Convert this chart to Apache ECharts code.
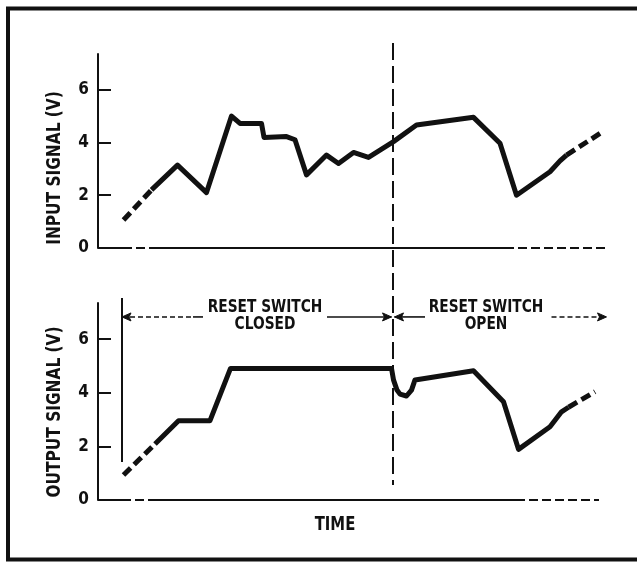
<!DOCTYPE html>
<html><head><meta charset="utf-8">
<script src="https://cdn.jsdelivr.net/npm/echarts@6/dist/echarts.min.js"></script>
<style>html,body{margin:0;padding:0;background:#fff}#c{width:637px;height:562px}</style>
</head><body><div id="c"></div>
<script>
const FONT = "'Liberation Sans Narrow','DejaVu Sans Condensed','Arial Narrow',sans-serif";
const yTicks = [0, 2, 4, 6];
const xMax = 102, yMax = 7.35;

// INPUT SIGNAL (V) vs time (arbitrary units)
const inputDashStart = [[5.1, 1.06], [10.7, 2.2]];
const inputSolid = [[10.7, 2.2], [15.9, 3.14], [21.7, 2.1], [26.7, 5.0], [28.4, 4.72], [32.7, 4.72], [33.2, 4.19],
  [37.7, 4.22], [39.4, 4.1], [41.7, 2.77], [45.7, 3.52], [48.1, 3.2], [51.1, 3.62], [54.1, 3.43],
  [59.1, 4.03], [63.7, 4.66], [75.1, 4.95], [80.4, 3.97], [83.7, 2.0], [90.4, 2.89], [92.4, 3.3], [93.7, 3.52]];
const inputDashEnd = [[93.7, 3.52], [100.4, 4.34]];

// OUTPUT SIGNAL (V) vs time
const outputDashStart = [[5.1, 0.93], [11.4, 2.09]];
const outputSolid = [[11.4, 2.09], [16.1, 2.96], [22.4, 2.96], [26.5, 4.91], [58.7, 4.91], [59.1, 4.48], [59.8, 4.1],
  [60.4, 3.95], [61.7, 3.88], [62.7, 4.1], [63.4, 4.48], [75.1, 4.82], [81.1, 3.67], [84.1, 1.89],
  [90.4, 2.73], [92.7, 3.29], [94.1, 3.46]];
const outputDashEnd = [[94.1, 3.46], [99.4, 4.04]];

// zero lines (solid / dashed pieces)
const topBaseSolid = [[[0, 0], [5.0, 0]], [[11.4, 0], [81.4, 0]]];
const topBaseDash = [[[5.0, 0], [11.4, 0]], [[81.4, 0], [101.8, 0]]];
const botBaseSolid = [[[0, 0], [4.8, 0]], [[11.2, 0], [83.6, 0]]];
const botBaseDash = [[[4.8, 0], [11.2, 0]], [[83.6, 0], [100.2, 0]]];

// annotation values
const switchCloseTime = 4.8;
const resetTime = 59.0;
const arrowLevel = 6.83;
const closedLabel = 'RESET SWITCH\nCLOSED';
const openLabel = 'RESET SWITCH\nOPEN';
const closedLabelPos = [33.4, 6.86];
const openLabelPos = [77.6, 6.86];

const chart = echarts.init(document.getElementById('c'), null, {renderer: 'canvas'});

function yAx(gi) {
  return {
    type: 'value', gridIndex: gi, min: 0, max: yMax, interval: 2,
    axisLine: {show: true, lineStyle: {color: '#111', width: 2}},
    axisTick: {show: true, inside: true, length: 13, lineStyle: {color: '#111', width: 2}},
    axisLabel: {color: '#111', fontFamily: FONT, fontWeight: 'bold', fontSize: 17, margin: 9, showMaxLabel: false,
      formatter: v => (yTicks.indexOf(v) >= 0 ? String(v) : '')},
    splitLine: {show: false}
  };
}
function xAx(gi) {
  return {type: 'value', gridIndex: gi, min: 0, max: xMax, show: false};
}
function line(gi, data, dashed, width) {
  return {
    type: 'line', xAxisIndex: gi, yAxisIndex: gi, data: data, symbol: 'none', silent: true, animation: false,
    lineStyle: {color: '#111', width: width, type: dashed ? dashed : 'solid', cap: 'butt', join: 'round'}
  };
}
const series = [];
topBaseSolid.forEach(s => series.push(line(0, s, null, 2)));
topBaseDash.forEach(s => series.push(line(0, s, [9, 4], 2)));
botBaseSolid.forEach(s => series.push(line(1, s, null, 2)));
botBaseDash.forEach(s => series.push(line(1, s, [9, 4], 2)));
series.push(line(0, inputDashStart, [10, 5], 5));
series.push(line(0, inputSolid, null, 5));
series.push(line(0, inputDashEnd, [10, 5], 5));
series.push(line(1, outputDashStart, [10, 5], 5));
series.push(line(1, outputSolid, null, 5));
series.push(line(1, outputDashEnd, [10, 5], 5));

chart.setOption({
  backgroundColor: '#fff',
  animation: false,
  grid: [
    {left: 98, top: 54, width: 510, height: 194},
    {left: 98, top: 303, width: 510, height: 197}
  ],
  xAxis: [xAx(0), xAx(1)],
  yAxis: [yAx(0), yAx(1)],
  series: series
});

const P = (gi, v) => chart.convertToPixel({gridIndex: gi}, v);
const g = [];
// frame
g.push({type: 'polyline', shape: {points: [[700, 8.5], [8, 8.5], [8, 559.5], [700, 559.5]]},
  style: {stroke: '#111', lineWidth: 4, fill: null}, silent: true});
// titles
g.push({type: 'text', x: 55, y: 168, rotation: Math.PI / 2, scaleX: 0.9,
  style: {text: 'INPUT SIGNAL (V)', align: 'center', verticalAlign: 'middle', font: 'bold 19px ' + FONT, fill: '#111'}});
g.push({type: 'text', x: 55, y: 412, rotation: Math.PI / 2, scaleX: 0.9,
  style: {text: 'OUTPUT SIGNAL (V)', align: 'center', verticalAlign: 'middle', font: 'bold 19px ' + FONT, fill: '#111'}});
g.push({type: 'text', x: 335, y: 525, scaleX: 0.87,
  style: {text: 'TIME', align: 'center', verticalAlign: 'middle', font: 'bold 19px ' + FONT, fill: '#111'}});
// vertical dashed reset line
const vTop = P(0, [resetTime, 7.77]), vBot = P(1, [resetTime, 0.56]);
g.push({type: 'line', shape: {x1: vTop[0], y1: vTop[1], x2: vBot[0], y2: vBot[1]},
  style: {stroke: '#111', lineWidth: 2, lineDash: [17, 6]}, silent: true});
// switch closing vertical line
const sTop = P(1, [switchCloseTime, 7.54]), sBot = P(1, [switchCloseTime, 1.42]);
g.push({type: 'line', shape: {x1: sTop[0], y1: sTop[1], x2: sBot[0], y2: sBot[1]},
  style: {stroke: '#111', lineWidth: 2}, silent: true});
function seg(t1, t2, dash) {
  const a = P(1, [t1, arrowLevel]), b = P(1, [t2, arrowLevel]);
  g.push({type: 'line', shape: {x1: a[0], y1: a[1], x2: b[0], y2: b[1]},
    style: {stroke: '#111', lineWidth: 1.6, lineDash: dash || null}, silent: true});
}
function head(t, dir) {
  const p = P(1, [t, arrowLevel]);
  g.push({type: 'polygon', shape: {points: [[p[0], p[1]], [p[0] - dir * 9, p[1] - 4], [p[0] - dir * 7, p[1]], [p[0] - dir * 9, p[1] + 4]]},
    style: {fill: '#111', stroke: '#111', lineWidth: 1}, silent: true});
}
seg(switchCloseTime, 19.0, [5, 3]); seg(19.0, 21.0); head(switchCloseTime, -1);
seg(45.8, 58.7); head(58.7, 1);
seg(59.3, 65.4); head(59.3, -1);
seg(90.7, 101.7, [5, 3]); head(101.7, 1);
const cl = P(1, closedLabelPos), op = P(1, openLabelPos);
g.push({type: 'text', x: cl[0], y: cl[1], scaleX: 0.9,
  style: {text: closedLabel, align: 'center', verticalAlign: 'middle', font: 'bold 17px ' + FONT, lineHeight: 17, fill: '#111'}});
g.push({type: 'text', x: op[0], y: op[1], scaleX: 0.9,
  style: {text: openLabel, align: 'center', verticalAlign: 'middle', font: 'bold 17px ' + FONT, lineHeight: 17, fill: '#111'}});
chart.setOption({graphic: g});
</script>
</body></html>
